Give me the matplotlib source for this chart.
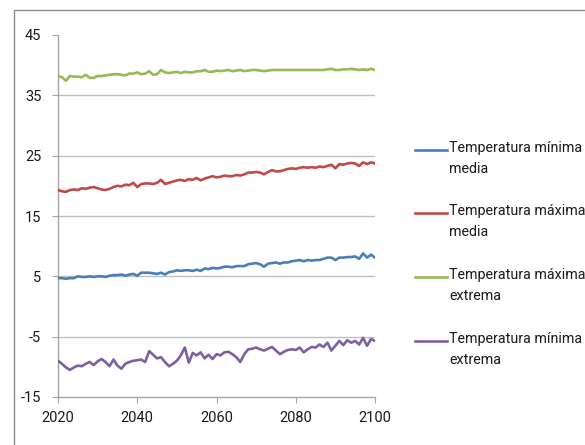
import numpy as np
import matplotlib
matplotlib.use("Agg")
import matplotlib.pyplot as plt
from matplotlib.patches import Rectangle
from matplotlib.lines import Line2D

plt.rcParams['font.family'] = ['Roboto', 'DejaVu Sans']

years = list(range(2020, 2101))

tmin_media = [4.7, 4.7, 4.6, 4.7, 4.7, 5.0, 4.9, 4.9, 5.0, 4.9,
              5.0, 5.0, 4.9, 5.1, 5.2, 5.2, 5.3, 5.1, 5.3, 5.4,
              5.1, 5.6, 5.6, 5.6, 5.5, 5.4, 5.6, 5.3, 5.7, 5.8,
              6.0, 5.9, 6.0, 6.0, 5.9, 6.1, 5.9, 6.3, 6.2, 6.4,
              6.3, 6.4, 6.6, 6.6, 6.5, 6.7, 6.7, 6.7, 7.0, 7.1,
              7.2, 7.0, 6.6, 7.1, 7.2, 7.3, 7.1, 7.3, 7.3, 7.5,
              7.6, 7.7, 7.5, 7.7, 7.6, 7.7, 7.7, 7.9, 8.1, 8.1,
              7.7, 8.1, 8.1, 8.2, 8.2, 8.3, 7.9, 8.8, 8.1, 8.6,
              8.1]

tmax_media = [19.3, 19.1, 19.0, 19.3, 19.4, 19.3, 19.6, 19.5, 19.7, 19.8,
              19.6, 19.4, 19.3, 19.5, 19.8, 20.0, 19.9, 20.2, 20.1, 20.5,
              19.8, 20.3, 20.4, 20.4, 20.3, 20.5, 21.0, 20.3, 20.5, 20.7,
              20.9, 21.0, 20.8, 21.1, 21.0, 21.3, 20.9, 21.2, 21.4, 21.6,
              21.4, 21.5, 21.7, 21.6, 21.6, 21.8, 21.7, 21.9, 22.2, 22.2,
              22.3, 22.2, 21.9, 22.3, 22.6, 22.4, 22.4, 22.6, 22.8, 22.9,
              22.8, 23.0, 23.1, 23.0, 23.1, 23.0, 23.2, 23.1, 23.3, 23.5,
              22.9, 23.6, 23.5, 23.7, 23.8, 23.7, 23.3, 23.9, 23.6, 23.9,
              23.7]

tmax_extrema = [38.2, 38.0, 37.4, 38.2, 38.1, 38.1, 38.0, 38.4, 37.9, 37.9,
                38.2, 38.2, 38.3, 38.4, 38.5, 38.5, 38.4, 38.3, 38.6, 38.6,
                38.8, 38.5, 38.6, 39.0, 38.4, 38.5, 39.2, 38.8, 38.7, 38.8,
                38.9, 38.7, 38.9, 38.8, 38.8, 39.0, 39.0, 39.2, 38.9, 38.9,
                39.1, 39.0, 39.1, 39.2, 39.0, 39.1, 39.2, 39.0, 39.1, 39.2,
                39.2, 39.1, 39.0, 39.1, 39.2, 39.2, 39.2, 39.2, 39.2, 39.2,
                39.2, 39.2, 39.2, 39.2, 39.2, 39.2, 39.2, 39.2, 39.3, 39.4,
                39.2, 39.2, 39.3, 39.3, 39.4, 39.3, 39.2, 39.3, 39.2, 39.4,
                39.2]

tmin_extrema = [-9.0, -9.5, -10.1, -10.5, -10.1, -9.8, -9.9, -9.5, -9.2, -9.7,
                -9.1, -8.7, -9.2, -9.9, -8.8, -9.8, -10.3, -9.5, -9.2, -9.0,
                -8.9, -8.8, -9.2, -7.4, -8.0, -8.6, -8.4, -9.2, -9.9, -9.5,
                -9.0, -8.1, -6.8, -9.3, -7.7, -8.1, -7.6, -8.6, -8.0, -8.7,
                -7.9, -8.1, -7.6, -7.5, -7.9, -8.4, -9.2, -7.9, -7.1, -7.0,
                -6.8, -7.1, -7.3, -7.0, -6.7, -7.3, -7.9, -7.5, -7.2, -7.1,
                -7.2, -6.8, -7.6, -7.1, -6.7, -6.8, -6.3, -6.7, -6.0, -7.3,
                -6.5, -5.7, -6.4, -5.6, -6.0, -5.7, -6.3, -5.2, -6.5, -5.4,
                -5.7]

series_labels = ["Temperatura mínima\nmedia", "Temperatura máxima\nmedia",
                 "Temperatura máxima\nextrema", "Temperatura mínima\nextrema"]
series_colors = ["#4A7EBB", "#BE4B48", "#98B954", "#7D60A0"]
y_ticks = [-15, -5, 5, 15, 25, 35, 45]
x_ticks = [2020, 2040, 2060, 2080, 2100]

W, H = 585, 445
fig = plt.figure(figsize=(W / 100, H / 100), dpi=100)

# outer chart frame
fig.patches.append(Rectangle((14 / W, -0.01), (W - 10) / W, 1 - 10 / H + 0.01,
                             transform=fig.transFigure, fill=False,
                             edgecolor="#8c8c8c", linewidth=1.0))

ax = fig.add_axes([58 / W, 1 - 397 / H, (375 - 58) / W, (397 - 35) / H])

all_series = [tmin_media, tmax_media, tmax_extrema, tmin_extrema]
for vals, col in zip(all_series, series_colors):
    ax.plot(years, vals, color=col, linewidth=1.9, solid_joinstyle="round", zorder=3)

ax.set_xlim(2020, 2100)
ax.set_ylim(-15, 45)
ax.set_xticks(x_ticks)
ax.set_yticks(y_ticks)
ax.set_xticklabels([str(t) for t in x_ticks], fontsize=10.5)
ax.set_yticklabels([str(t) for t in y_ticks], fontsize=10.5)

for y in y_ticks[1:-1]:
    ax.axhline(y, color="#bfbfbf", linewidth=1.0, zorder=1)

for s in ["top", "right"]:
    ax.spines[s].set_visible(False)
for s in ["left", "bottom"]:
    ax.spines[s].set_color("#a6a6a6")
    ax.spines[s].set_linewidth(1.0)

ax.tick_params(axis="y", direction="out", length=4, color="#a6a6a6", pad=8, labelcolor="#1a1a1a")
ax.tick_params(axis="x", direction="out", length=4, color="#a6a6a6", pad=6, labelcolor="#1a1a1a")

# legend entries on the right
legend_rows = [150, 213, 277, 341]
for row, lab, col in zip(legend_rows, series_labels, series_colors):
    yy = 1 - row / H
    fig.lines.append(Line2D([415 / W, 447 / W], [yy, yy], transform=fig.transFigure,
                            color=col, linewidth=1.9))
    fig.text(449 / W, yy + 8.5 / H, lab, fontsize=10.3, va="top", ha="left",
             linespacing=1.55, color="#1a1a1a")

fig.savefig("out.png", dpi=100)
